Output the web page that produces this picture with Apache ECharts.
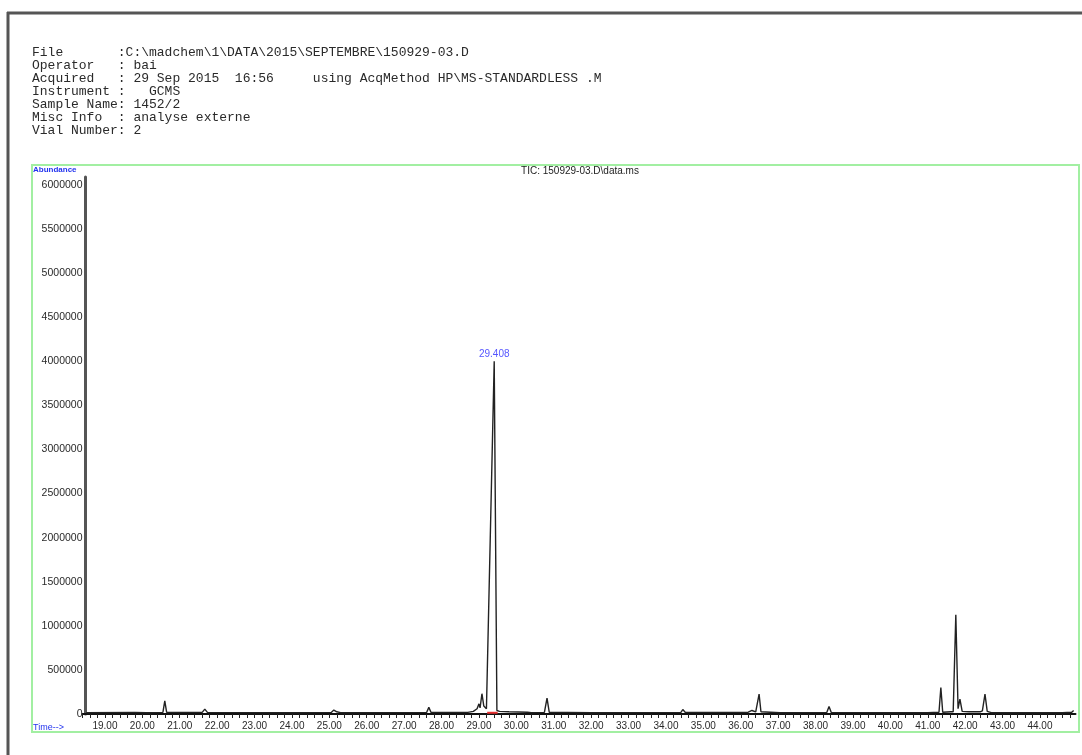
<!DOCTYPE html>
<html>
<head>
<meta charset="utf-8">
<script src="https://cdn.jsdelivr.net/npm/echarts@6/dist/echarts.min.js"></script>
<style>
html,body{margin:0;padding:0;background:#fff;}
#chart{width:1082px;height:755px;}
</style>
</head>
<body>
<div id="chart"></div>
<script>
// ---- Data ----
const headerLines = [
  "File       :C:\\madchem\\1\\DATA\\2015\\SEPTEMBRE\\150929-03.D",
  "Operator   : bai",
  "Acquired   : 29 Sep 2015  16:56     using AcqMethod HP\\MS-STANDARDLESS .M",
  "Instrument :   GCMS",
  "Sample Name: 1452/2",
  "Misc Info  : analyse externe",
  "Vial Number: 2"
];
const chartTitle = "TIC: 150929-03.D\\data.ms";
const yAxisName = "Abundance";
const xAxisName = "Time-->";

// retention time (min)
const rt = [
  18.50, 19.80, 20.10, 20.15, 20.22, 20.55, 20.60, 20.65,
  21.60, 21.67, 21.74, 23.95, 24.00, 24.05,
  25.05, 25.12, 25.20, 25.30, 27.60, 27.66, 27.72,
  28.70, 28.85, 28.95, 29.00, 29.03, 29.08, 29.13, 29.20, 29.24, 29.408, 29.48, 29.55, 29.80, 30.30, 30.40,
  30.75, 30.82, 30.88, 31.25, 31.30, 31.36, 32.00, 32.05, 32.10,
  34.40, 34.45, 34.52, 36.20, 36.30, 36.40, 36.45, 36.49, 36.54,
  37.05, 37.10, 37.15, 38.30, 38.36, 38.42, 40.00, 40.05, 40.10,
  41.00, 41.30, 41.35, 41.40, 41.62, 41.68, 41.75, 41.81, 41.86, 41.92, 42.10, 42.40, 42.46, 42.53, 42.59, 42.70,
  43.28, 43.33, 43.38, 44.60, 44.85, 44.90
];
// abundance
const abundance = [
  15000, 18000, 15000, 35000, 15000, 18000, 150000, 18000,
  18000, 55000, 18000, 15000, 30000, 15000,
  18000, 45000, 25000, 15000, 18000, 75000, 18000,
  18000, 30000, 60000, 115000, 70000, 230000, 90000, 60000, 45000, 4000000, 40000, 30000, 25000, 20000, 15000,
  18000, 180000, 18000, 18000, 35000, 18000, 15000, 25000, 15000,
  18000, 50000, 18000, 20000, 40000, 25000, 30000, 225000, 25000,
  15000, 30000, 15000, 18000, 85000, 18000, 15000, 25000, 15000,
  15000, 20000, 300000, 20000, 25000, 25000, 1125000, 60000, 170000, 30000, 25000, 25000, 35000, 225000, 30000, 15000,
  15000, 35000, 15000, 15000, 20000, 40000
];
// integration baseline marker (red)
const integRT = [29.22, 29.50];
const integAbund = [14000, 14000];
// labelled peak
const peakRT = 29.408;
const peakAbund = 4000000;
const peakText = "29.408";

// ---- Chart ----
const chart = echarts.init(document.getElementById('chart'), null, {renderer: 'canvas'});
const traceData = rt.map((t, i) => [t, abundance[i]]);
const integData = integRT.map((t, i) => [t, integAbund[i]]);

const option = {
  animation: false,
  backgroundColor: '#ffffff',
  grid: {left: 82.5, right: 6.5, top: 177, bottom: 41, containLabel: false},
  xAxis: {
    type: 'value',
    min: 18.4,
    max: 44.95,
    interval: 0.2,
    axisLine: {show: true, lineStyle: {color: '#111', width: 2}},
    axisTick: {show: true, length: 4, lineStyle: {color: '#222', width: 1}},
    splitLine: {show: false},
    axisLabel: {
      show: true,
      margin: 7,
      fontSize: 10,
      fontFamily: 'Liberation Sans, Arial, sans-serif',
      color: '#2a2a2a',
      showMaxLabel: false,
      formatter: function (v) {
        return Math.abs(v - Math.round(v)) < 1e-6 ? Math.round(v).toFixed(2) : '';
      }
    }
  },
  yAxis: {
    type: 'value',
    min: 0,
    max: 6090000,
    interval: 500000,
    offset: -3,
    axisLine: {show: true, lineStyle: {color: '#555', width: 3}},
    axisTick: {show: false},
    splitLine: {show: false},
    axisLabel: {
      show: true,
      margin: 3,
      fontSize: 10.5,
      fontFamily: 'Liberation Sans, Arial, sans-serif',
      color: '#2a2a2a',
      showMaxLabel: false,
      formatter: function (v) {
        return (Math.round(v) % 500000 === 0) ? String(Math.round(v)) : '';
      }
    }
  },
  series: [
    {
      type: 'line',
      data: traceData,
      symbol: 'none',
      lineStyle: {color: '#222', width: 1.4},
      z: 3
    },
    {
      type: 'line',
      data: integData,
      symbol: 'none',
      lineStyle: {color: '#e83030', width: 2},
      z: 4
    },
    {
      type: 'scatter',
      data: [[peakRT, peakAbund]],
      symbolSize: 0,
      label: {
        show: true,
        position: 'top',
        distance: 2,
        formatter: peakText,
        fontSize: 10,
        fontFamily: 'Liberation Sans, Arial, sans-serif',
        color: '#2a2aff'
      },
      z: 5
    }
  ],
  graphic: [
    // scanned page frame (top and left dark edges)
    {type: 'line', shape: {x1: 7, y1: 13, x2: 1082, y2: 13}, style: {stroke: '#555', lineWidth: 3}},
    {type: 'line', shape: {x1: 8, y1: 12, x2: 8, y2: 755}, style: {stroke: '#555', lineWidth: 3}},
    // green plot frame
    {type: 'rect', shape: {x: 32, y: 165, width: 1047, height: 567},
     style: {fill: 'none', stroke: '#a2efa2', lineWidth: 2}, z: 1},
    // header text
    {type: 'text', left: 32, top: 46,
     style: {text: headerLines.join('\n'), font: '13px "Liberation Mono", "DejaVu Sans Mono", monospace',
             fill: '#2a2a2a', lineHeight: 13}},
    {type: 'text', x: 580, y: 171,
     style: {text: chartTitle, font: '10px "Liberation Sans", Arial, sans-serif', fill: '#222',
             align: 'center', verticalAlign: 'middle'}},
    {type: 'text', x: 33, y: 170,
     style: {text: yAxisName, font: 'bold 8px "Liberation Sans", Arial, sans-serif', fill: '#2233ee',
             align: 'left', verticalAlign: 'middle'}},
    {type: 'text', x: 33, y: 728,
     style: {text: xAxisName, font: '9px "Liberation Sans", Arial, sans-serif', fill: '#2233ee',
             align: 'left', verticalAlign: 'middle'}}
  ]
};
chart.setOption(option);
</script>
</body>
</html>
